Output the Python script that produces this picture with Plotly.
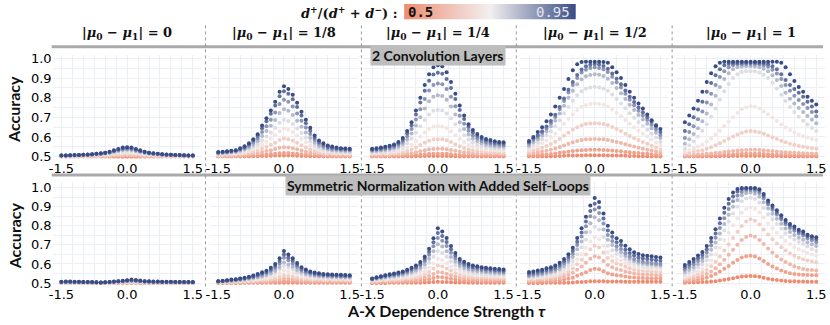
import base64
import plotly.graph_objects as go
from plotly.subplots import make_subplots

# x positions (A-X dependence strength) and the colour groups
tau = [-1.5, -1.4, -1.3, -1.2, -1.1, -1.0, -0.9, -0.8, -0.7, -0.6, -0.5, -0.4, -0.3, -0.2, -0.1,
       0.0, 0.1, 0.2, 0.3, 0.4, 0.5, 0.6, 0.7, 0.8, 0.9, 1.0, 1.1, 1.2, 1.3, 1.4, 1.5]
ratios = [0.5, 0.55, 0.6, 0.65, 0.7, 0.75, 0.8, 0.85, 0.9, 0.95]
mu_labels = ['0', '1/8', '1/4', '1/2', '1']
row_titles = ['2 Convolution Layers', 'Symmetric Normalization with Added Self-Loops']

# accuracy in %, one list per ratio (0.5 ... 0.95)
conv_mu0 = [
    [50.0,50.0,50.0,50.0,50.0,50.0,50.0,50.0,50.0,49.9,49.9,49.8,49.8,49.7,49.7,49.7,49.7,49.7,49.8,49.8,49.9,49.9,50.0,50.0,50.0,50.0,50.0,50.0,50.0,50.0,50.0],
    [50.1,50.1,50.1,50.1,50.1,50.1,50.1,50.1,50.1,50.2,50.2,50.2,50.2,50.3,50.3,50.3,50.3,50.3,50.2,50.2,50.2,50.2,50.1,50.1,50.1,50.1,50.1,50.1,50.1,50.1,50.1],
    [50.2,50.2,50.2,50.2,50.2,50.2,50.3,50.3,50.3,50.3,50.4,50.4,50.5,50.6,50.7,50.7,50.7,50.6,50.5,50.4,50.4,50.3,50.3,50.3,50.3,50.2,50.2,50.2,50.2,50.2,50.2],
    [50.2,50.2,50.2,50.3,50.3,50.3,50.3,50.4,50.4,50.5,50.6,50.7,50.9,51.1,51.2,51.3,51.2,51.1,50.9,50.7,50.6,50.5,50.4,50.4,50.3,50.3,50.3,50.3,50.2,50.2,50.2],
    [50.3,50.3,50.4,50.4,50.4,50.5,50.5,50.6,50.7,50.8,50.9,51.1,51.4,51.7,51.9,52.0,51.9,51.7,51.4,51.1,50.9,50.8,50.7,50.6,50.5,50.5,50.4,50.4,50.4,50.3,50.3],
    [50.4,50.4,50.5,50.5,50.6,50.6,50.7,50.8,51.0,51.1,51.3,51.5,51.9,52.3,52.7,52.8,52.7,52.3,51.9,51.5,51.3,51.1,51.0,50.8,50.7,50.6,50.6,50.5,50.5,50.4,50.4],
    [50.5,50.6,50.6,50.7,50.7,50.8,50.9,51.0,51.2,51.3,51.6,51.9,52.4,52.9,53.4,53.5,53.4,52.9,52.4,51.9,51.6,51.3,51.2,51.0,50.9,50.8,50.7,50.7,50.6,50.6,50.5],
    [50.5,50.6,50.6,50.7,50.8,50.9,51.0,51.1,51.3,51.5,51.8,52.1,52.7,53.3,53.8,54.0,53.8,53.3,52.7,52.1,51.8,51.5,51.3,51.1,51.0,50.9,50.8,50.7,50.6,50.6,50.5],
    [50.5,50.6,50.7,50.7,50.8,50.9,51.0,51.2,51.4,51.6,51.9,52.3,52.9,53.6,54.2,54.4,54.2,53.6,52.9,52.3,51.9,51.6,51.4,51.2,51.0,50.9,50.8,50.7,50.7,50.6,50.5],
    [50.5,50.6,50.7,50.8,50.8,50.9,51.1,51.2,51.4,51.7,52.0,52.5,53.2,53.9,54.6,54.8,54.6,53.9,53.2,52.5,52.0,51.7,51.4,51.2,51.1,50.9,50.8,50.8,50.7,50.6,50.5],
]
conv_mu1_8 = [
    [50.0,50.1,50.0,50.0,50.1,50.0,50.1,50.1,50.2,50.2,50.3,50.3,50.4,50.5,50.5,50.6,50.5,50.5,50.4,50.3,50.3,50.2,50.2,50.1,50.1,50.1,50.0,50.1,50.0,50.1,50.0],
    [50.2,50.2,50.2,50.2,50.3,50.3,50.4,50.5,50.6,50.7,50.9,51.1,51.3,51.5,51.7,51.8,51.8,51.6,51.4,51.2,51.0,50.8,50.7,50.5,50.4,50.4,50.3,50.3,50.3,50.3,50.3],
    [50.4,50.4,50.5,50.5,50.6,50.7,50.9,51.1,51.4,51.8,52.3,52.8,53.3,53.9,54.5,54.8,54.7,54.3,53.7,53.1,52.5,52.0,51.6,51.3,51.1,50.9,50.8,50.8,50.7,50.7,50.7],
    [50.7,50.8,50.9,51.0,51.1,51.3,51.6,52.0,52.5,53.1,54.1,55.0,56.0,57.1,58.4,59.2,58.9,58.1,57.0,55.8,54.7,53.7,52.8,52.2,51.8,51.5,51.4,51.3,51.2,51.2,51.2],
    [51.0,51.1,51.3,51.4,51.6,51.9,52.3,52.9,53.7,54.7,56.2,57.6,59.2,60.9,62.9,64.2,63.7,62.5,60.8,59.0,57.3,55.7,54.3,53.3,52.7,52.3,52.0,51.9,51.8,51.7,51.7],
    [51.3,51.4,51.6,51.8,52.0,52.4,53.0,53.8,54.9,56.2,58.3,60.2,62.3,64.6,67.3,68.8,68.2,66.6,64.4,62.0,59.7,57.6,55.7,54.4,53.6,53.0,52.7,52.5,52.4,52.3,52.2],
    [51.6,51.8,52.0,52.2,52.5,53.0,53.7,54.7,56.1,57.8,60.5,63.0,65.7,68.7,72.2,74.1,73.3,71.2,68.3,65.2,62.3,59.5,57.1,55.4,54.4,53.7,53.3,53.1,53.0,52.9,52.8],
    [51.9,52.1,52.3,52.5,52.8,53.5,54.3,55.5,57.2,59.2,62.5,65.5,68.8,72.5,76.8,79.0,78.0,75.5,72.0,68.3,64.8,61.5,58.5,56.5,55.3,54.4,54.0,53.7,53.5,53.4,53.3],
    [52.1,52.3,52.5,52.8,53.1,53.9,54.8,56.2,58.2,60.5,64.5,68.0,71.8,76.0,80.8,83.3,82.0,79.2,75.3,71.0,67.0,63.2,59.6,57.4,56.0,55.0,54.5,54.1,54.0,53.9,53.8],
    [52.3,52.5,52.7,53.0,53.3,54.3,55.3,56.8,58.9,61.4,65.8,69.5,73.5,78.0,83.0,85.8,84.5,81.5,77.4,72.9,68.8,64.7,60.7,58.2,56.8,55.6,55.1,54.6,54.3,54.1,54.0],
]
conv_mu1_4 = [
    [50.0,50.0,50.0,50.0,50.0,50.0,50.0,50.0,50.1,50.1,50.2,50.2,50.3,50.3,50.3,50.3,50.3,50.3,50.2,50.2,50.1,50.1,50.0,50.0,50.0,50.0,50.0,50.0,50.0,50.0,50.0],
    [50.3,50.3,50.3,50.3,50.3,50.4,50.4,50.5,50.6,50.7,50.9,51.0,51.2,51.4,51.5,51.5,51.5,51.4,51.2,51.0,50.8,50.7,50.7,50.6,50.6,50.5,50.5,50.5,50.5,50.5,50.5],
    [50.7,50.7,50.7,50.8,50.8,50.9,51.0,51.1,51.4,51.7,52.2,52.7,53.2,53.7,53.9,54.0,54.0,53.8,53.4,53.0,52.5,52.2,51.9,51.6,51.5,51.4,51.3,51.3,51.2,51.2,51.2],
    [51.2,51.3,51.3,51.4,51.5,51.6,51.8,52.2,52.8,53.6,54.7,55.9,57.1,58.1,58.7,58.9,58.8,58.3,57.4,56.3,55.3,54.4,53.6,53.1,52.7,52.5,52.3,52.2,52.1,52.0,52.0],
    [51.7,51.8,51.9,52.0,52.2,52.4,52.8,53.5,54.6,56.1,58.0,60.1,62.3,64.0,65.2,65.5,65.3,64.4,62.8,60.9,59.0,57.4,55.9,55.0,54.3,53.9,53.5,53.4,53.2,53.1,53.0],
    [52.2,52.4,52.5,52.7,53.0,53.3,54.0,55.0,56.8,59.1,62.1,65.4,68.7,71.5,73.3,73.8,73.5,72.0,69.5,66.5,63.4,60.9,58.7,57.1,56.1,55.4,54.9,54.6,54.3,54.1,54.0],
    [52.7,52.9,53.1,53.4,53.7,54.2,55.0,56.4,58.7,61.8,65.8,70.1,74.5,78.2,80.5,81.2,80.9,78.9,75.5,71.5,67.5,64.1,61.2,59.1,57.8,56.8,56.1,55.7,55.3,55.1,55.0],
    [53.2,53.4,53.7,54.0,54.4,55.0,56.0,57.6,60.4,64.0,68.9,74.1,79.3,83.7,86.5,87.3,86.9,84.5,80.5,75.6,70.8,66.8,63.2,60.8,59.2,58.0,57.2,56.7,56.2,56.0,55.8],
    [53.6,53.9,54.1,54.5,55.0,55.6,56.8,58.6,61.9,66.0,71.5,77.5,83.5,88.6,91.8,92.7,92.2,89.5,84.9,79.3,73.8,69.2,65.1,62.3,60.5,59.1,58.2,57.6,57.1,56.8,56.6],
    [54.0,54.3,54.6,55.0,55.5,56.2,57.5,59.5,63.0,67.5,73.5,80.0,86.5,92.0,95.5,96.5,96.0,93.0,88.0,82.0,76.0,71.0,66.5,63.5,61.5,60.0,59.0,58.4,57.8,57.5,57.3],
]
conv_mu1_2 = [
    [50.0,50.0,50.1,50.1,50.1,50.2,50.2,50.3,50.4,50.5,50.5,50.6,50.6,50.7,50.7,50.7,50.7,50.7,50.6,50.6,50.5,50.5,50.4,50.3,50.3,50.2,50.2,50.1,50.1,50.0,50.0],
    [50.5,50.7,50.8,50.9,51.1,51.3,51.6,51.9,52.2,52.5,52.8,53.1,53.3,53.4,53.5,53.5,53.5,53.4,53.3,53.1,52.9,52.7,52.4,52.2,52.0,51.8,51.6,51.4,51.2,51.0,50.8],
    [51.5,51.9,52.2,52.6,53.0,53.5,54.1,54.9,55.7,56.5,57.3,58.0,58.5,58.8,58.9,59.0,58.9,58.8,58.5,58.0,57.5,56.9,56.3,55.6,55.1,54.5,54.0,53.5,53.1,52.6,52.0],
    [52.5,53.2,53.8,54.5,55.4,56.4,57.6,59.0,60.6,62.2,63.7,65.0,66.0,66.6,66.9,67.0,66.9,66.6,66.1,65.1,64.0,63.0,61.7,60.5,59.4,58.4,57.4,56.5,55.5,54.6,53.5],
    [53.5,54.7,55.6,56.8,58.2,59.8,61.7,64.1,66.7,69.2,71.6,73.7,75.4,76.3,76.8,77.0,76.8,76.4,75.5,74.0,72.3,70.6,68.6,66.7,65.0,63.2,61.7,60.2,58.7,57.2,55.5],
    [54.5,56.1,57.3,58.8,60.7,62.9,65.4,68.5,71.9,75.3,78.4,81.2,83.3,84.6,85.2,85.5,85.2,84.7,83.5,81.6,79.3,77.1,74.6,72.1,69.8,67.6,65.6,63.7,61.7,59.7,57.5],
    [55.5,57.3,58.8,60.6,62.8,65.4,68.3,71.9,75.9,80.0,83.6,86.9,89.4,90.9,91.6,92.0,91.7,91.0,89.7,87.5,84.9,82.3,79.3,76.4,73.8,71.2,68.9,66.7,64.4,62.1,59.5],
    [56.5,58.5,60.0,62.0,64.3,67.0,70.2,74.1,78.3,82.6,86.5,90.0,92.8,94.3,95.1,95.5,95.2,94.5,93.1,90.7,87.9,85.2,82.0,78.9,76.2,73.4,71.0,68.6,66.2,63.8,61.0],
    [57.3,59.3,60.9,62.9,65.3,68.1,71.3,75.3,79.6,84.0,88.0,91.6,94.4,96.0,96.8,97.2,96.9,96.2,94.8,92.3,89.6,86.8,83.7,80.5,77.8,75.0,72.6,70.1,67.7,65.3,62.5],
    [58.0,60.0,62.5,65.0,68.0,71.5,75.5,80.0,84.5,89.5,94.0,97.0,98.2,98.3,98.3,98.3,98.3,98.2,97.8,95.5,93.0,90.0,86.5,83.0,80.0,77.0,74.5,71.5,68.5,66.0,64.0],
]
conv_mu1 = [
    [50.0,50.1,50.0,50.1,50.1,50.2,50.1,50.2,50.2,50.3,50.2,50.3,50.3,50.4,50.3,50.4,50.3,50.4,50.3,50.3,50.2,50.3,50.2,50.2,50.1,50.2,50.1,50.1,50.0,50.1,50.0],
    [50.3,50.3,50.4,50.4,50.5,50.5,50.6,50.7,50.8,50.9,51.0,51.1,51.3,51.4,51.5,51.5,51.5,51.4,51.3,51.2,51.1,51.0,50.9,50.9,50.8,50.8,50.7,50.7,50.7,50.7,50.7],
    [50.8,50.9,51.0,51.1,51.2,51.4,51.6,51.8,52.0,52.3,52.6,52.9,53.1,53.3,53.4,53.5,53.5,53.4,53.2,53.0,52.8,52.6,52.4,52.2,52.1,52.0,51.8,51.7,51.6,51.6,51.5],
    [51.5,51.8,52.3,52.8,53.3,54.0,54.8,55.8,56.8,57.9,59.1,60.2,61.3,62.2,62.8,63.0,62.8,62.4,61.7,60.8,59.9,59.0,58.1,57.3,56.6,56.0,55.4,55.0,54.6,54.3,54.0],
    [52.5,53.2,54.1,55.1,56.2,57.6,59.2,61.1,63.2,65.5,67.8,70.1,72.2,74.1,75.2,75.7,75.4,74.5,73.1,71.6,69.9,68.1,66.4,64.9,63.5,62.3,61.3,60.4,59.7,59.0,58.5],
    [54.0,55.8,57.8,60.3,63.2,66.5,70.3,74.5,79.0,83.3,87.0,90.0,92.0,93.1,93.5,93.5,93.4,92.8,91.7,90.0,87.6,84.7,81.5,78.3,75.3,72.7,70.3,68.3,66.3,64.6,63.0],
    [56.5,58.8,61.5,64.5,68.0,72.0,76.5,81.0,85.5,89.5,92.5,94.5,95.5,95.9,96.0,96.0,95.9,95.5,94.8,93.5,91.5,89.0,86.0,82.5,79.5,77.0,74.8,72.7,70.7,68.8,67.0],
    [59.5,62.5,65.5,69.0,73.0,77.5,82.0,86.5,90.5,93.5,95.5,96.5,97.0,97.1,97.2,97.2,97.2,97.0,96.6,95.8,94.3,92.3,89.5,86.5,83.5,81.0,78.8,76.8,74.8,72.7,70.5],
    [63.0,66.5,70.0,74.0,78.0,83.0,87.5,91.5,94.5,96.5,97.3,97.6,97.7,97.8,97.8,97.8,97.8,97.7,97.5,97.0,96.0,94.5,92.0,89.0,86.5,84.5,82.5,80.5,78.0,75.5,73.0],
    [67.5,71.0,74.5,78.5,83.0,88.0,92.5,96.0,97.8,98.3,98.3,98.3,98.3,98.3,98.3,98.3,98.3,98.3,98.3,98.3,98.3,98.3,97.8,95.5,92.0,88.5,85.5,83.0,80.5,78.5,76.5],
]
loop_mu0 = [
    [50.0,50.0,49.9,50.0,50.0,49.9,50.0,50.0,49.9,49.9,49.9,49.9,50.0,50.0,50.0,50.0,50.0,50.1,50.0,50.0,50.0,50.0,50.0,49.9,50.0,50.0,49.9,50.0,50.0,49.9,50.0],
    [50.0,50.1,50.0,50.1,50.0,50.0,50.1,50.0,50.0,50.0,49.9,50.0,50.0,50.1,50.1,50.1,50.2,50.2,50.1,50.1,50.1,50.1,50.0,50.0,50.1,50.0,50.0,50.1,50.0,50.0,50.0],
    [50.1,50.1,50.1,50.1,50.1,50.1,50.1,50.1,50.0,50.0,50.0,50.1,50.1,50.2,50.2,50.3,50.3,50.3,50.2,50.2,50.2,50.1,50.1,50.1,50.1,50.1,50.1,50.1,50.1,50.0,50.0],
    [50.2,50.2,50.2,50.2,50.2,50.2,50.2,50.1,50.1,50.1,50.1,50.2,50.2,50.3,50.4,50.4,50.5,50.4,50.4,50.3,50.3,50.3,50.2,50.2,50.2,50.2,50.2,50.2,50.1,50.1,50.1],
    [50.3,50.3,50.3,50.3,50.3,50.3,50.2,50.2,50.2,50.1,50.2,50.2,50.3,50.4,50.5,50.6,50.7,50.6,50.5,50.4,50.4,50.4,50.3,50.3,50.3,50.3,50.3,50.2,50.2,50.2,50.2],
    [50.4,50.4,50.4,50.4,50.4,50.3,50.3,50.3,50.2,50.2,50.2,50.3,50.4,50.5,50.7,50.8,50.9,50.8,50.7,50.6,50.5,50.5,50.4,50.4,50.4,50.4,50.3,50.3,50.3,50.3,50.3],
    [50.5,50.5,50.5,50.5,50.4,50.4,50.4,50.3,50.3,50.2,50.3,50.4,50.5,50.7,50.8,51.0,51.1,51.0,50.9,50.7,50.6,50.6,50.5,50.5,50.5,50.4,50.4,50.4,50.4,50.3,50.3],
    [50.5,50.6,50.6,50.5,50.5,50.5,50.4,50.4,50.3,50.3,50.3,50.5,50.6,50.8,51.0,51.1,51.3,51.2,51.0,50.8,50.7,50.6,50.6,50.5,50.5,50.5,50.5,50.4,50.4,50.4,50.4],
    [50.6,50.7,50.7,50.6,50.6,50.5,50.5,50.4,50.4,50.3,50.4,50.5,50.7,50.9,51.1,51.3,51.5,51.4,51.1,50.9,50.8,50.7,50.7,50.6,50.6,50.6,50.5,50.5,50.5,50.5,50.4],
    [50.7,50.8,50.8,50.7,50.7,50.6,50.6,50.5,50.4,50.3,50.4,50.6,50.8,51.0,51.2,51.5,51.8,51.6,51.3,51.0,50.9,50.8,50.8,50.7,50.7,50.7,50.6,50.6,50.6,50.5,50.5],
]
loop_mu1_8 = [
    [50.0,50.0,50.0,50.0,50.0,50.0,50.1,50.1,50.1,50.1,50.1,50.1,50.1,50.2,50.2,50.2,50.2,50.2,50.2,50.1,50.1,50.1,50.1,50.1,50.1,50.1,50.1,50.1,50.1,50.1,50.1],
    [50.2,50.2,50.2,50.2,50.3,50.3,50.3,50.3,50.4,50.4,50.4,50.5,50.6,50.7,50.8,51.0,50.9,50.8,50.7,50.6,50.6,50.6,50.5,50.5,50.5,50.5,50.5,50.5,50.5,50.5,50.5],
    [50.3,50.3,50.4,50.4,50.4,50.5,50.5,50.6,50.7,50.8,50.9,51.0,51.2,51.5,51.9,52.4,52.2,52.0,51.7,51.5,51.3,51.2,51.2,51.1,51.1,51.1,51.0,51.0,51.0,51.0,51.0],
    [50.4,50.5,50.5,50.6,50.6,50.7,50.8,50.9,51.1,51.3,51.5,51.7,52.0,52.5,53.2,54.1,53.7,53.3,52.8,52.4,52.1,51.9,51.8,51.7,51.6,51.6,51.6,51.6,51.5,51.5,51.5],
    [50.5,50.6,50.7,50.8,50.9,51.0,51.2,51.4,51.6,51.9,52.3,52.6,53.2,54.0,55.1,56.6,55.9,55.2,54.3,53.5,53.1,52.7,52.5,52.4,52.3,52.2,52.1,52.1,52.1,52.0,52.0],
    [50.6,50.7,50.9,51.0,51.1,51.4,51.6,51.8,52.2,52.6,53.1,53.6,54.4,55.4,57.1,59.1,58.2,57.1,55.8,54.7,54.1,53.5,53.2,53.0,52.9,52.8,52.7,52.7,52.6,52.6,52.5],
    [50.7,50.8,51.0,51.2,51.3,51.6,51.9,52.2,52.6,53.1,53.6,54.2,55.2,56.5,58.4,60.8,59.7,58.5,56.9,55.6,54.8,54.2,53.9,53.6,53.4,53.3,53.2,53.2,53.1,53.1,53.0],
    [50.8,51.0,51.2,51.4,51.6,51.9,52.2,52.6,53.1,53.7,54.4,55.2,56.3,57.9,60.3,63.3,61.9,60.3,58.4,56.7,55.7,55.0,54.5,54.2,53.9,53.8,53.7,53.6,53.6,53.5,53.4],
    [50.9,51.1,51.4,51.6,51.8,52.2,52.5,53.0,53.5,54.2,55.0,55.8,57.1,58.9,61.6,65.0,63.4,61.7,59.4,57.5,56.4,55.6,55.0,54.7,54.4,54.2,54.1,54.1,54.0,53.9,53.8],
    [51.0,51.2,51.5,51.8,52.0,52.4,52.8,53.3,53.9,54.7,55.6,56.5,58.0,60.0,63.0,66.8,65.0,63.0,60.5,58.3,57.1,56.1,55.5,55.1,54.8,54.6,54.5,54.4,54.3,54.2,54.1],
]
loop_mu1_4 = [
    [50.0,50.0,50.0,50.0,50.1,50.1,50.1,50.1,50.1,50.2,50.2,50.2,50.3,50.4,50.6,50.7,50.6,50.5,50.4,50.3,50.3,50.3,50.2,50.2,50.2,50.2,50.2,50.2,50.2,50.2,50.2],
    [50.3,50.4,50.4,50.5,50.5,50.6,50.6,50.7,50.8,50.9,51.1,51.2,51.6,52.0,52.6,53.2,53.0,52.7,52.3,51.9,51.6,51.4,51.3,51.2,51.2,51.1,51.1,51.1,51.0,51.0,51.0],
    [50.6,50.7,50.8,50.9,51.0,51.1,51.2,51.3,51.5,51.7,51.9,52.3,52.9,53.7,54.8,55.8,55.5,54.9,54.1,53.4,52.8,52.6,52.3,52.2,52.1,52.0,52.0,51.9,51.9,51.8,51.8],
    [50.9,51.1,51.3,51.4,51.6,51.7,51.9,52.1,52.4,52.7,53.1,53.6,54.5,55.8,57.6,59.2,58.7,57.6,56.4,55.2,54.3,53.9,53.5,53.2,53.1,53.0,52.9,52.8,52.7,52.7,52.6],
    [51.2,51.5,51.7,51.9,52.2,52.3,52.5,52.8,53.2,53.6,54.2,54.9,56.1,58.0,60.3,62.6,61.9,60.4,58.6,57.1,55.7,55.1,54.6,54.3,54.1,53.9,53.8,53.7,53.6,53.5,53.4],
    [51.5,51.9,52.2,52.5,52.8,53.0,53.3,53.7,54.2,54.8,55.5,56.5,58.1,60.6,63.8,66.8,65.8,63.8,61.4,59.2,57.4,56.6,55.9,55.4,55.2,54.9,54.7,54.6,54.4,54.3,54.2],
    [51.8,52.2,52.7,53.0,53.4,53.6,54.0,54.4,55.0,55.7,56.6,57.8,59.8,62.8,66.6,70.3,69.1,66.7,63.7,61.1,58.9,57.9,57.1,56.5,56.2,55.9,55.6,55.5,55.3,55.1,55.0],
    [52.0,52.5,53.0,53.4,53.8,54.1,54.5,55.0,55.8,56.6,57.6,59.1,61.4,64.8,69.3,73.6,72.2,69.4,65.9,62.9,60.3,59.2,58.2,57.5,57.2,56.8,56.5,56.4,56.1,56.0,55.8],
    [52.2,52.8,53.3,53.8,54.2,54.6,55.0,55.6,56.4,57.3,58.4,60.0,62.6,66.4,71.4,76.2,74.6,71.5,67.7,64.3,61.5,60.2,59.1,58.4,58.1,57.6,57.3,57.1,56.9,56.7,56.5],
    [52.4,53.0,53.6,54.1,54.6,55.0,55.5,56.1,57.0,58.0,59.2,61.0,63.8,68.0,73.5,78.7,77.0,73.6,69.4,65.7,62.6,61.2,60.0,59.2,58.8,58.3,58.0,57.8,57.5,57.3,57.1],
]
loop_mu1_2 = [
    [50.0,50.0,50.0,50.0,50.1,50.1,50.1,50.1,50.2,50.2,50.3,50.5,50.6,50.7,50.9,51.0,50.9,50.9,50.8,50.8,50.8,50.8,50.7,50.7,50.7,50.7,50.7,50.7,50.7,50.7,50.7],
    [50.6,50.7,50.7,50.8,51.0,51.0,51.2,51.5,51.8,52.2,52.8,53.8,54.7,55.7,56.8,57.5,57.2,56.2,55.1,54.5,54.1,53.8,53.4,53.1,52.9,52.7,52.6,52.5,52.5,52.5,52.4],
    [51.2,51.3,51.5,51.6,51.9,52.0,52.3,52.8,53.5,54.2,55.4,57.0,58.7,60.7,62.7,64.0,63.4,61.5,59.4,58.3,57.3,56.8,56.0,55.5,55.0,54.7,54.5,54.4,54.3,54.2,54.1],
    [51.8,51.9,52.2,52.3,52.7,53.0,53.4,54.0,54.9,56.0,57.6,59.9,62.2,65.0,67.7,69.5,68.6,66.0,63.1,61.6,60.3,59.6,58.5,57.7,57.0,56.6,56.3,56.2,56.1,55.9,55.8],
    [52.4,52.6,52.9,53.1,53.5,53.8,54.3,55.1,56.2,57.5,59.4,62.3,65.1,68.5,71.8,74.0,72.9,69.7,66.1,64.2,62.6,61.8,60.4,59.4,58.6,58.1,57.8,57.6,57.4,57.3,57.1],
    [53.0,53.2,53.6,53.8,54.4,54.7,55.3,56.3,57.7,59.3,61.6,65.1,68.6,72.7,76.8,79.5,78.1,74.1,69.6,67.2,65.2,64.2,62.5,61.2,60.2,59.5,59.1,58.9,58.7,58.5,58.3],
    [53.6,53.8,54.2,54.6,55.2,55.6,56.3,57.4,59.0,61.0,63.7,67.7,71.8,76.6,81.3,84.5,82.9,78.0,72.7,69.9,67.4,66.2,64.2,62.7,61.5,60.7,60.2,59.9,59.7,59.5,59.2],
    [54.2,54.5,54.9,55.3,56.0,56.4,57.2,58.5,60.2,62.4,65.4,69.9,74.4,79.7,85.0,88.5,86.7,81.2,75.2,72.0,69.3,67.9,65.6,63.9,62.6,61.7,61.1,60.8,60.5,60.3,60.0],
    [55.0,55.3,55.8,56.1,56.9,57.4,58.2,59.5,61.4,63.7,66.9,71.7,76.5,82.2,87.7,91.5,89.6,83.8,77.6,74.2,71.4,70.0,67.5,65.8,64.4,63.4,62.9,62.6,62.3,62.0,61.7],
    [55.8,56.1,56.6,57.0,57.8,58.3,59.2,60.6,62.6,65.1,68.5,73.6,78.7,84.7,90.6,94.5,92.5,86.5,80.0,76.5,73.5,72.0,69.5,67.7,66.2,65.2,64.6,64.3,64.0,63.7,63.4],
]
loop_mu1 = [
    [50.2,50.3,50.3,50.4,50.5,50.6,50.8,51.0,51.3,51.7,52.1,52.5,53.0,53.4,53.6,53.7,53.6,53.3,52.8,52.3,51.9,51.6,51.3,51.1,51.0,50.9,50.8,50.8,50.7,50.7,50.7],
    [50.7,51.0,51.3,51.7,52.2,52.8,53.7,54.8,56.1,57.5,59.0,60.6,62.1,63.4,64.1,64.3,63.9,62.9,61.5,60.0,58.7,57.6,56.6,55.8,55.2,54.8,54.5,54.3,54.2,54.1,54.1],
    [51.5,51.9,52.4,53.0,53.7,54.7,56.1,57.8,59.9,62.2,64.8,67.5,70.1,72.5,74.1,74.9,74.2,72.6,70.4,68.1,66.0,64.1,62.4,61.0,59.8,58.8,58.0,57.4,57.0,56.8,56.6],
    [52.4,53.0,53.7,54.5,55.5,56.9,58.8,61.1,63.9,67.0,70.3,73.6,76.9,79.9,82.2,83.4,82.6,80.7,78.1,75.4,72.9,70.7,68.7,67.0,65.5,64.3,63.3,62.5,61.8,61.3,60.9],
    [53.2,54.0,55.0,56.1,57.4,59.2,61.8,64.9,68.5,72.5,76.5,80.3,83.8,86.8,88.8,89.6,88.9,87.0,84.3,81.4,78.7,76.3,74.0,72.0,70.3,68.9,67.7,66.7,65.8,65.0,64.3],
    [54.6,55.6,56.8,58.2,59.7,61.9,65.0,68.6,72.9,77.6,82.2,86.4,90.0,92.8,94.3,94.7,94.0,92.2,89.3,86.1,83.4,80.9,78.4,76.1,74.3,72.8,71.5,70.4,69.1,67.9,66.8],
    [55.8,57.0,58.3,59.9,61.5,64.0,67.4,71.3,76.0,81.0,85.8,90.0,93.5,96.0,97.1,97.4,96.8,95.2,92.3,89.0,86.3,83.7,81.1,78.6,76.7,75.2,73.8,72.7,71.3,70.3,69.4],
    [57.1,58.4,59.8,61.5,63.3,66.0,69.7,73.8,78.8,84.0,88.8,92.8,95.9,97.7,98.5,98.7,98.4,97.2,94.4,91.1,88.4,85.9,83.3,80.8,78.8,77.4,75.9,74.9,73.4,72.4,71.4],
    [58.3,59.7,61.2,63.0,64.8,67.7,71.6,76.0,81.3,86.8,91.6,95.4,98.0,99.2,99.5,99.5,99.4,98.4,95.6,92.2,89.5,87.0,84.4,81.9,80.0,78.6,77.0,76.0,74.5,73.6,72.8],
    [59.5,61.0,62.6,64.5,66.3,69.4,73.6,78.2,83.8,89.4,94.0,97.4,99.3,99.8,99.8,99.8,99.8,99.2,96.6,93.2,90.6,88.1,85.5,83.0,81.0,79.6,77.9,77.0,75.3,74.5,74.0],
]

conv_panels = [conv_mu0, conv_mu1_8, conv_mu1_4, conv_mu1_2, conv_mu1]
loop_panels = [loop_mu0, loop_mu1_8, loop_mu1_4, loop_mu1_2, loop_mu1]

for p in conv_panels + loop_panels:
    assert len(p) == len(ratios)
    for s in p:
        assert len(s) == len(tau), len(s)

W, H = 830, 325


def fx(x):
    return x / W


def fy(y):
    return 1 - y / H


col_px = [(49, 199), (207, 357), (362, 512), (520, 670), (677, 827)]
row_px = [(53, 160), (184, 290)]
y_ranges = [[0.49, 1.02], [0.49, 1.03]]
c_low, c_mid, c_high = '#ee8c70', '#f2f0f0', '#394c85'
scale = [[0, c_low], [0.5, c_mid], [1, c_high]]
grid = '#eceff6'

fig = make_subplots(rows=2, cols=5)

for r, panels in enumerate([conv_panels, loop_panels]):
    for c, data in enumerate(panels):
        for k, ratio in enumerate(ratios):
            fig.add_trace(go.Scatter(
                x=tau, y=[v / 100 for v in data[k]], mode='markers',
                marker=dict(size=4, color=[ratio] * len(tau), colorscale=scale,
                            cmin=ratios[0], cmax=ratios[-1], showscale=False),
                showlegend=False, hoverinfo='skip'), row=r + 1, col=c + 1)
        fig.update_xaxes(domain=[fx(col_px[c][0]), fx(col_px[c][1])], row=r + 1, col=c + 1)
        fig.update_yaxes(domain=[fy(row_px[r][1]), fy(row_px[r][0])],
                         range=y_ranges[r], showticklabels=(c == 0), row=r + 1, col=c + 1)

fig.update_xaxes(range=[-1.7, 1.7], tickvals=[-1.5, 0, 1.5], ticktext=['-1.5', '0.0', '1.5'],
                 showgrid=True, gridcolor=grid, gridwidth=1, zeroline=False, showline=False,
                 minor=dict(tick0=0, dtick=0.25, showgrid=True, gridcolor=grid),
                 tickfont=dict(family='DejaVu Sans', size=13, color='#000'))
fig.update_yaxes(tickvals=[0.5, 0.6, 0.7, 0.8, 0.9, 1.0],
                 ticktext=['0.5', '0.6', '0.7', '0.8', '0.9', '1.0'],
                 showgrid=True, gridcolor=grid, gridwidth=1, zeroline=False, showline=False,
                 minor=dict(dtick=0.05, showgrid=True, gridcolor=grid),
                 tickfont=dict(family='DejaVu Sans', size=13, color='#000'))

# colour key drawn as a gradient strip (same colour scale as the dots)
svg = ("<svg xmlns='http://www.w3.org/2000/svg' width='173' height='16' preserveAspectRatio='none'>"
       "<defs><linearGradient id='g'>"
       f"<stop offset='0' stop-color='{c_low}'/><stop offset='0.5' stop-color='{c_mid}'/>"
       f"<stop offset='1' stop-color='{c_high}'/></linearGradient></defs>"
       "<rect width='173' height='16' fill='url(#g)'/></svg>")
key_img = dict(source='data:image/svg+xml;base64,' + base64.b64encode(svg.encode()).decode(),
               xref='paper', yref='paper', x=fx(403), y=fy(1), sizex=173 / W, sizey=16 / H,
               xanchor='left', yanchor='top', sizing='stretch', layer='above')

ann = []
# column headers
for c, lab in enumerate(mu_labels):
    ann.append(dict(x=fx((col_px[c][0] + col_px[c][1]) / 2), y=fy(31),
                    text='<b>|<i>μ</i><sub>0</sub> − <i>μ</i><sub>1</sub>| = ' + lab + '</b>',
                    font=dict(family='DejaVu Serif', size=13, color='#111')))
# row titles in grey boxes
for r, t in enumerate(row_titles):
    ann.append(dict(x=fx(437), y=fy(54 if r == 0 else 188), text='<b>' + t + '</b>',
                    font=dict(family='Lato', size=14, color='#111'), bgcolor='#bdbdbd',
                    borderpad=1))
    ann.append(dict(x=fx(10), y=fy(109 if r == 0 else 239), text='<b>Accuracy</b>',
                    textangle=-90, font=dict(family='Lato', size=16, color='#111')))
ann.append(dict(x=fx(446), y=fy(316), text='<b>A-X Dependence Strength <i>τ</i></b>',
                font=dict(family='Lato', size=16, color='#111')))
# colour key labels
ann.append(dict(x=fx(399), y=fy(10), xanchor='right',
                text='<b><i>d</i><sup>+</sup>/(<i>d</i><sup>+</sup> + <i>d</i><sup>−</sup>) :</b>',
                font=dict(family='DejaVu Serif', size=13, color='#111')))
ann.append(dict(x=fx(405), y=fy(9), text='<b>' + str(ratios[0]) + '</b>', xanchor='left',
                font=dict(family='DejaVu Sans Mono', size=14, color='#111')))
ann.append(dict(x=fx(572), y=fy(9), text=str(ratios[-1]), xanchor='right',
                font=dict(family='DejaVu Sans Mono', size=14, color='#e4e6ee')))
for a in ann:
    a.setdefault('xanchor', 'center')
    a.update(xref='paper', yref='paper', yanchor='middle', showarrow=False)

shapes = []
for yy in (45, 177):
    shapes.append(dict(type='line', xref='paper', yref='paper', x0=fx(48), x1=fx(825),
                       y0=fy(yy), y1=fy(yy), line=dict(color='#aaaaaa', width=3)))
for xx in (203, 360, 516, 673):
    shapes.append(dict(type='line', xref='paper', yref='paper', x0=fx(xx), x1=fx(xx),
                       y0=fy(23), y1=fy(292), line=dict(color='#9a9a9a', width=1, dash='dot')))

fig.update_layout(width=W, height=H, margin=dict(l=0, r=0, t=0, b=0),
                  paper_bgcolor='white', plot_bgcolor='white',
                  annotations=ann, shapes=shapes, images=[key_img])

# drop the browser's default body margin so the figure sits at the window's corner
fig.write_html("out.html", config={'displayModeBar': False, 'staticPlot': True},
               post_script="document.body.style.margin = '0px';")
